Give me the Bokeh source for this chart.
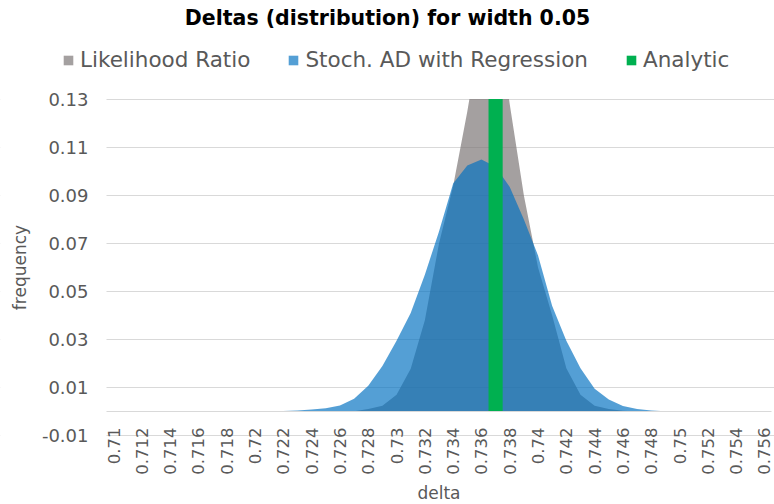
from bokeh.plotting import figure
from bokeh.models import (Range1d, FixedTicker, Legend, LegendItem, Label,
                          BoxAnnotation, CustomJSTickFormatter)
from bokeh.embed import file_html
from bokeh.resources import INLINE
import math

# ---- data ----
delta_values = [
    0.710, 0.711, 0.712, 0.713, 0.714, 0.715, 0.716, 0.717, 0.718, 0.719,
    0.720, 0.721, 0.722, 0.723, 0.724, 0.725, 0.726, 0.727, 0.728, 0.729,
    0.730, 0.731, 0.732, 0.733, 0.734, 0.735, 0.736, 0.737, 0.738, 0.739,
    0.740, 0.741, 0.742, 0.743, 0.744, 0.745, 0.746, 0.747, 0.748, 0.749,
    0.750, 0.751, 0.752, 0.753, 0.754, 0.755, 0.756,
]

likelihood_ratio = [
    0, 0, 0, 0, 0, 0, 0, 0, 0, 0,
    0, 0, 0, 0, 0, 0, 0, 0.0001, 0.001, 0.0024,
    0.007, 0.0178, 0.038, 0.07, 0.094, 0.125, 0.16, 0.17, 0.128, 0.09,
    0.06, 0.04, 0.018, 0.007, 0.0024, 0.001, 0.0003, 0, 0, 0,
    0, 0, 0, 0, 0, 0, 0,
]

stoch_ad_regression = [
    0, 0, 0, 0, 0, 0, 0, 0, 0, 0,
    0, 0.0001, 0.0002, 0.0004, 0.0008, 0.0014, 0.0025, 0.0053, 0.0107, 0.019,
    0.0295, 0.041, 0.057, 0.075, 0.095, 0.1025, 0.105, 0.102, 0.0935, 0.08,
    0.065, 0.044, 0.0295, 0.018, 0.0095, 0.005, 0.0023, 0.001, 0.0004, 0.0001,
    0, 0, 0, 0, 0, 0, 0,
]

analytic_delta = [0.737]
analytic_value = [0.14]

x_ticks = [
    0.710, 0.712, 0.714, 0.716, 0.718, 0.720, 0.722, 0.724, 0.726, 0.728,
    0.730, 0.732, 0.734, 0.736, 0.738, 0.740, 0.742, 0.744, 0.746, 0.748,
    0.750, 0.752, 0.754, 0.756,
]
x_tick_labels = [
    "0.71", "0.712", "0.714", "0.716", "0.718", "0.72", "0.722", "0.724", "0.726", "0.728",
    "0.73", "0.732", "0.734", "0.736", "0.738", "0.74", "0.742", "0.744", "0.746", "0.748",
    "0.75", "0.752", "0.754", "0.756",
]

y_ticks = [-0.01, 0.01, 0.03, 0.05, 0.07, 0.09, 0.11, 0.13]
y_tick_labels = ["-0.01", "0.01", "0.03", "0.05", "0.07", "0.09", "0.11", "0.13"]

series_names = ["Likelihood Ratio", "Stoch. AD with Regression", "Analytic"]
series_colors = ["#787272", "#0070C0", "#00B050"]
title_text = "Deltas (distribution) for width 0.05"

# ---- layout constants (pixels) ----
W, H = 774, 504
PLOT_LEFT, PLOT_RIGHT = 106, 771     # data area, horizontally
PLOT_TOP = 99                        # where y = 0.13 sits
PX_PER_Y = 2400.0                    # pixels per unit of frequency
STEP = 0.001                         # category step of delta
x_lo, x_hi = delta_values[0] - STEP / 2, delta_values[-1] + STEP / 2
y_lo_axis, y_hi_axis = y_ticks[0], y_ticks[-1]
px_per_x = (PLOT_RIGHT - PLOT_LEFT) / (x_hi - x_lo)

x_range = Range1d(x_lo - PLOT_LEFT / px_per_x, x_hi + (W - PLOT_RIGHT) / px_per_x)
y_range = Range1d(y_hi_axis - (H - PLOT_TOP) / PX_PER_Y, y_hi_axis + PLOT_TOP / PX_PER_Y)

TEXT = "#595959"
FONT = "DejaVu Sans"

p = figure(
    width=W, height=H, x_range=x_range, y_range=y_range,
    output_backend="svg", toolbar_location=None, title_location=None, min_border=0,
)
p.outline_line_color = None
p.background_fill_color = "white"

# gridlines
p.ygrid.ticker = FixedTicker(ticks=y_ticks)
p.ygrid.grid_line_color = "#D9D9D9"
p.ygrid.grid_line_width = 1
p.xgrid.visible = False
# keep gridlines out of the tick-label margin on the left
p.add_layout(BoxAnnotation(right=x_lo, fill_color="white", fill_alpha=1,
                           line_color=None, level="underlay"))

zeros = [0] * len(delta_values)
r_lr = p.varea(x=delta_values, y1=zeros, y2=likelihood_ratio,
               fill_color=series_colors[0], fill_alpha=0.67)
r_ad = p.varea(x=delta_values, y1=zeros, y2=stoch_ad_regression,
               fill_color=series_colors[1], fill_alpha=0.67)
r_an = p.vbar(x=analytic_delta, top=analytic_value, bottom=0, width=STEP,
              fill_color=series_colors[2], line_color=None)

# the plot area ends at y = 0.13: hide whatever rises above it
p.add_layout(BoxAnnotation(left=x_lo, bottom=y_hi_axis + 0.5 / PX_PER_Y,
                           fill_color="white", fill_alpha=1, line_color=None))

label_js = """
let best = 0, bd = Infinity;
for (let i = 0; i < tick_vals.length; i++) {
  const d = Math.abs(tick_vals[i] - tick);
  if (d < bd) { bd = d; best = i; }
}
return tick_text[best];
"""

# y axis at the left edge of the data area
ya = p.yaxis[0]
ya.fixed_location = x_lo
ya.bounds = (y_lo_axis, y_hi_axis)
ya.ticker = FixedTicker(ticks=y_ticks)
ya.formatter = CustomJSTickFormatter(args=dict(tick_vals=y_ticks, tick_text=y_tick_labels),
                                     code=label_js)
ya.axis_line_color = None
ya.major_tick_line_color = None
ya.minor_tick_line_color = None
ya.major_tick_out = 0
ya.major_tick_in = 0
ya.major_label_standoff = 18
ya.major_label_text_font = FONT
ya.major_label_text_font_size = "18px"
ya.major_label_text_color = TEXT
ya.axis_label = "frequency"
ya.axis_label_text_font = FONT
ya.axis_label_text_font_size = "17px"
ya.axis_label_text_font_style = "normal"
ya.axis_label_text_color = TEXT
ya.axis_label_standoff = 9

# x axis crossing at y = 0
xa = p.xaxis[0]
xa.fixed_location = 0
xa.bounds = (x_lo, x_hi)
xa.ticker = FixedTicker(ticks=x_ticks)
xa.formatter = CustomJSTickFormatter(args=dict(tick_vals=x_ticks, tick_text=x_tick_labels),
                                     code=label_js)
xa.axis_line_color = "#D9D9D9"
xa.axis_line_width = 1
xa.major_tick_line_color = None
xa.minor_tick_line_color = None
xa.major_tick_out = 0
xa.major_tick_in = 0
xa.major_label_orientation = math.pi / 2
xa.major_label_standoff = 16
xa.major_label_text_font = FONT
xa.major_label_text_font_size = "16.5px"
xa.major_label_text_color = TEXT
xa.axis_label = "delta"
xa.axis_label_text_font = FONT
xa.axis_label_text_font_size = "17px"
xa.axis_label_text_font_style = "normal"
xa.axis_label_text_color = TEXT
xa.axis_label_standoff = 5

legend = Legend(
    items=[
        LegendItem(label=series_names[0], renderers=[r_lr]),
        LegendItem(label=series_names[1], renderers=[r_ad]),
        LegendItem(label=series_names[2], renderers=[r_an]),
    ],
    orientation="horizontal", location=(62, 432),
    glyph_width=12, glyph_height=12, label_height=24, label_standoff=6, spacing=37,
    padding=0, margin=0, border_line_color=None, background_fill_alpha=0,
    label_text_font=FONT, label_text_font_size="21.5px", label_text_color=TEXT,
)
p.add_layout(legend, "center")

p.add_layout(Label(
    x=W / 2, y=H - 17, x_units="screen", y_units="screen", text=title_text,
    text_align="center", text_baseline="middle",
    text_font=FONT, text_font_size="20.5px", text_font_style="bold", text_color="black",
))

open("out.html", "w").write(file_html(p, INLINE))
